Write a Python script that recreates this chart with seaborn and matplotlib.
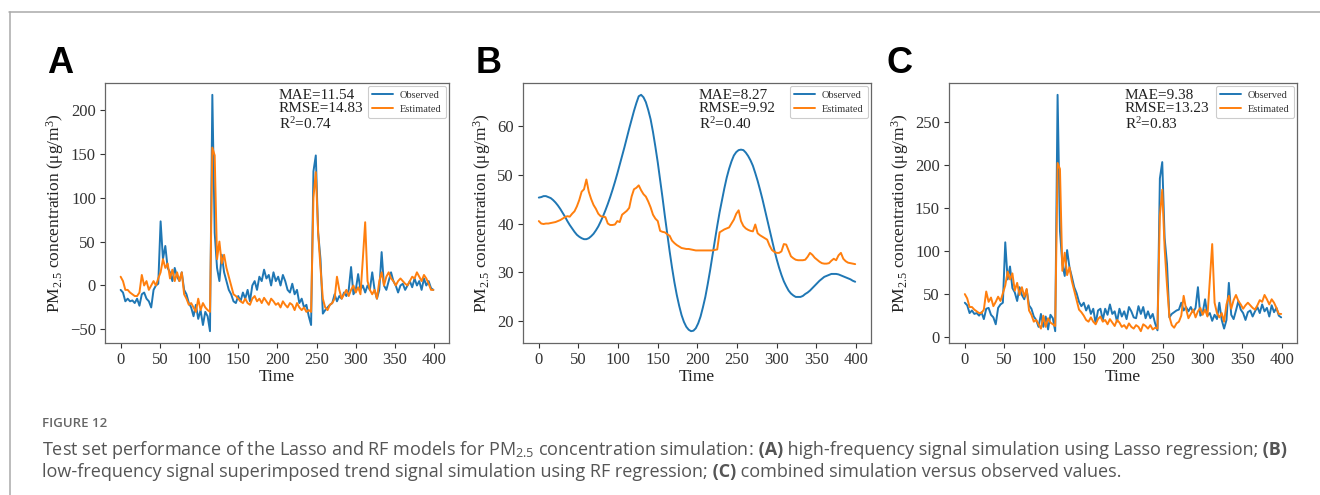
import numpy as np
import pandas as pd
import matplotlib
matplotlib.use("Agg")
import matplotlib.pyplot as plt
import seaborn as sns
from matplotlib.lines import Line2D

STEP = 3
TIME = list(range(0, 400, STEP))

A_OBSERVED = [
    -5, -8, -18, -15, -18, -17, -20, -15, -23, -10,
    -8, -15, -18, -25, -5, 0, 2, 73, 30, 45,
    20, 15, 5, 20, 10, 5, 15, -5, -10, -20,
    -25, -35, -22, -38, -28, -45, -30, -35, -52, 217,
    60, 20, 5, 35, 15, 5, -5, -10, -18, -20,
    -12, -18, -8, -15, -5, -18, 0, 5, -5, 10,
    5, 18, 8, 12, 0, 15, 5, 10, 0, 12,
    5, -5, -8, 2, -10, -5, -20, -15, -25, -22,
    -35, -45, 130, 148, 60, 30, -32, -28, -25, -22,
    -20, -10, -18, -12, -15, -8, -12, -5, 21, -10,
    -5, 13, -5, 0, -8, 0, -5, 15, -5, -15,
    -5, 38, 0, -5, 5, 15, 5, 0, -8, 0,
    2, -5, 0, 5, -2, 8, 0, 5, -5, 8,
    0, 5, -3, -5,
]
A_ESTIMATED = [
    10, 5, -5, -5, -8, -10, -12, -12, -8, 12,
    0, 5, -5, 0, 5, 0, 8, 15, 30, 20,
    25, 8, 18, 5, 15, 5, 15, -10, -15, -22,
    -20, -25, -30, -15, -28, -20, -25, -28, -30, 157,
    148, 30, 50, 25, 35, 20, 10, 0, -10, -12,
    -15, -18, -20, -15, -20, -22, -15, -12, -18, -15,
    -20, -14, -18, -22, -15, -18, -22, -20, -25, -18,
    -22, -25, -20, -22, -28, -20, -25, -28, -25, -30,
    -28, -30, 100, 129, 60, 20, -15, -25, -28, -22,
    -20, -15, 10, -5, -15, -10, -5, -12, -5, 0,
    -8, -2, -10, 30, 72, 5, -5, -10, -5, -15,
    5, 15, 0, 10, 15, 8, 5, 0, 5, 8,
    5, 2, 0, 5, 10, 8, 15, 10, 5, 12,
    8, 2, -5, -5,
]
B_OBSERVED = [
    45.3, 45.4, 45.6, 45.6, 45.4, 45.2, 44.8, 44.3, 43.7, 43.0,
    42.2, 41.4, 40.5, 39.7, 39.0, 38.3, 37.7, 37.3, 37.0, 36.8,
    36.8, 37.0, 37.4, 37.9, 38.6, 39.4, 40.4, 41.5, 42.7, 44.0,
    45.4, 46.9, 48.5, 50.2, 52.0, 53.8, 55.6, 57.5, 59.4, 61.2,
    63.0, 64.6, 66.0, 66.3, 65.8, 64.8, 63.2, 61.3, 58.7, 55.7,
    52.5, 48.9, 45.3, 41.5, 37.9, 34.3, 31.0, 28.0, 25.4, 23.2,
    21.3, 19.9, 18.9, 18.3, 18.0, 18.1, 18.6, 19.6, 21.0, 22.9,
    25.0, 27.6, 30.4, 33.5, 36.5, 39.5, 42.3, 44.8, 47.2, 49.4,
    51.2, 52.7, 53.9, 54.6, 55.0, 55.1, 55.0, 54.5, 53.8, 52.9,
    51.8, 50.3, 48.7, 46.9, 45.0, 42.9, 40.8, 38.7, 36.6, 34.6,
    32.7, 31.0, 29.5, 28.2, 27.2, 26.3, 25.7, 25.3, 25.0, 25.0,
    25.0, 25.2, 25.6, 25.9, 26.3, 26.8, 27.3, 27.8, 28.3, 28.7,
    29.1, 29.3, 29.5, 29.7, 29.7, 29.7, 29.6, 29.4, 29.2, 29.0,
    28.8, 28.6, 28.3, 28.1,
]
B_ESTIMATED = [
    40.5, 40.0, 39.9, 40.0, 40.0, 40.1, 40.2, 40.3, 40.5, 40.7,
    41.0, 41.3, 41.5, 41.4, 42.0, 42.5, 43.5, 44.8, 46.5, 47.0,
    49.0, 46.5, 45.0, 43.8, 43.0, 42.0, 41.5, 41.4, 41.3, 40.0,
    39.7, 39.7, 39.8, 40.5, 40.3, 41.8, 42.2, 42.6, 43.2, 45.5,
    47.0, 47.3, 47.8, 46.8, 46.0, 45.5, 44.5, 43.3, 41.8, 41.0,
    40.5, 38.5, 38.3, 38.2, 37.8, 37.5, 36.5, 36.0, 35.6, 35.3,
    35.0, 34.9, 34.8, 34.8, 34.7, 34.6, 34.5, 34.5, 34.5, 34.5,
    34.5, 34.5, 34.5, 34.5, 34.6, 34.7, 38.2, 38.5, 38.8, 39.0,
    39.2, 40.0, 40.8, 42.0, 42.7, 40.5, 39.5, 39.0, 38.7, 38.5,
    38.4, 39.8, 38.0, 37.6, 37.3, 37.0, 36.7, 35.5, 34.6, 34.2,
    34.0, 34.0, 34.3, 35.8, 35.7, 34.5, 33.3, 32.9, 32.6, 32.5,
    32.5, 32.5, 32.6, 33.2, 34.0, 33.6, 33.0, 32.6, 32.2, 31.9,
    31.8, 31.8, 31.9, 32.4, 32.8, 32.5, 33.5, 34.0, 32.8, 32.3,
    32.0, 31.9, 31.8, 31.7,
]
C_OBSERVED = [
    40, 37, 28, 31, 27, 28, 25, 29, 21, 33,
    34, 26, 23, 15, 34, 38, 40, 110, 67, 82,
    57, 52, 42, 58, 49, 44, 55, 37, 33, 24,
    20, 12, 27, 12, 24, 9, 26, 22, 7, 281,
    123, 85, 71, 101, 81, 70, 58, 51, 41, 36,
    40, 31, 37, 27, 33, 16, 31, 33, 20, 33,
    26, 38, 27, 30, 18, 33, 24, 30, 21, 35,
    30, 23, 22, 36, 27, 35, 22, 30, 22, 27,
    16, 8, 184, 203, 115, 85, 23, 27, 29, 31,
    32, 40, 31, 35, 30, 35, 29, 34, 58, 25,
    28, 44, 25, 28, 19, 26, 21, 40, 20, 10,
    20, 63, 26, 21, 31, 42, 32, 28, 20, 29,
    31, 24, 30, 35, 28, 38, 30, 34, 24, 37,
    29, 34, 25, 23,
]
C_ESTIMATED = [
    50, 45, 35, 35, 32, 30, 28, 28, 32, 53,
    41, 46, 36, 41, 47, 42, 51, 60, 76, 67,
    74, 54, 63, 49, 58, 47, 56, 31, 26, 18,
    20, 15, 10, 25, 12, 22, 17, 15, 13, 202,
    195, 77, 98, 72, 81, 65, 54, 43, 32, 29,
    25, 20, 18, 23, 18, 15, 21, 24, 18, 20,
    15, 21, 17, 13, 20, 17, 12, 14, 10, 16,
    12, 10, 14, 12, 7, 15, 13, 10, 14, 9,
    11, 10, 141, 171, 103, 60, 24, 14, 11, 16,
    18, 25, 48, 33, 22, 27, 32, 23, 30, 34,
    26, 32, 24, 66, 108, 40, 28, 23, 28, 18,
    38, 48, 33, 43, 49, 42, 38, 33, 37, 40,
    37, 34, 32, 37, 43, 41, 49, 44, 38, 44,
    40, 34, 27, 27,
]

PANEL_LETTERS = ["A", "B", "C"]
MAE = [11.54, 8.27, 9.38]
RMSE = [14.83, 9.92, 13.23]
R2 = [0.74, 0.40, 0.83]
YTICKS = [[-50, 0, 50, 100, 150, 200], [20, 30, 40, 50, 60], [0, 50, 100, 150, 200, 250]]
XTICKS = [0, 50, 100, 150, 200, 250, 300, 350, 400]
SERIES_NAMES = ["Observed", "Estimated"]
OBSERVED = [A_OBSERVED, B_OBSERVED, C_OBSERVED]
ESTIMATED = [A_ESTIMATED, B_ESTIMATED, C_ESTIMATED]

# ---------------- style ----------------
sns.set_theme(style="ticks")
plt.rcParams.update({
    "font.family": ["Liberation Serif", "DejaVu Serif"],
    "mathtext.fontset": "custom",
    "mathtext.rm": "Liberation Serif",
    "mathtext.it": "Liberation Serif:italic",
    "mathtext.bf": "Liberation Serif:bold",
    "mathtext.sf": "Open Sans",
})

W, H = 1320, 495
fig = plt.figure(figsize=(W / 100, H / 100), dpi=100)
fig.patch.set_facecolor("white")

COLORS = {"Observed": "#1f77b4", "Estimated": "#ff7f0e"}

# axes rectangles in pixels: left, top, right, bottom
AX_PX = [(105, 83, 449, 343), (523, 83, 871, 343), (949, 83, 1297, 343)]
LETTER_X = [47, 476, 887]

for i in range(3):
    l, t, r, b = AX_PX[i]
    ax = fig.add_axes([l / W, 1 - b / H, (r - l) / W, (b - t) / H])
    df = pd.DataFrame({"Time": TIME * 2,
                       "value": list(OBSERVED[i]) + list(ESTIMATED[i]),
                       "Series": ["Observed"] * len(TIME) + ["Estimated"] * len(TIME)})
    sns.lineplot(data=df, x="Time", y="value", hue="Series", hue_order=SERIES_NAMES,
                 palette=COLORS, estimator=None, sort=False, linewidth=1.4, ax=ax)
    ax.set_xticks(XTICKS)
    ax.set_yticks(YTICKS[i])
    ax.set_xlabel("Time", fontsize=12.5, color="#222222", labelpad=1)
    ax.set_ylabel("PM$_{2.5}$ concentration (\u03bcg/m$^{3}$)", fontsize=12.5,
                  color="#222222", labelpad=3)
    ax.tick_params(labelsize=12, colors="#333333", length=3.5, width=0.8, pad=3)
    for sp in ax.spines.values():
        sp.set_visible(True)
        sp.set_color("#666666")
        sp.set_linewidth(0.9)
    leg = ax.legend(loc="upper right", fontsize=7.5, frameon=True, fancybox=True,
                    edgecolor="#cccccc", framealpha=1, borderaxespad=0.3,
                    handlelength=2.0, handletextpad=0.7, labelcolor="#333333")
    leg.get_frame().set_linewidth(0.8)
    txt = "MAE={:.2f}\nRMSE={:.2f}\nR$^2$={:.2f}".format(MAE[i], RMSE[i], R2[i])
    ax.text(0.505, 0.978, txt, transform=ax.transAxes, va="top", ha="left",
            fontsize=11, linespacing=1.05, color="#222222")
    fig.text(LETTER_X[i] / W, 1 - 73 / H, PANEL_LETTERS[i], fontsize=26,
             fontweight="bold", family="Liberation Sans", va="baseline", ha="left",
             color="black")

# card border
fig.add_artist(Line2D([9 / W, 1], [1 - 12 / H, 1 - 12 / H], color="#aaaaaa",
                      lw=1.1, transform=fig.transFigure))
fig.add_artist(Line2D([9.5 / W, 9.5 / W], [0, 1 - 12 / H], color="#aaaaaa",
                      lw=1.1, transform=fig.transFigure))

# caption
renderer = fig.canvas.get_renderer()
CAP_FONT = "Open Sans"
CAP_COLOR = "#555555"
CAP_SIZE = 13


def draw_runs(x_px, base_px, runs):
    x = x_px
    for text, weight in runs:
        t = fig.text(x / W, 1 - base_px / H, text, fontsize=CAP_SIZE, fontweight=weight,
                     family=CAP_FONT, color=CAP_COLOR, va="baseline", ha="left")
        bb = t.get_window_extent(renderer)
        x = bb.x1


fig.text(42 / W, 1 - 427 / H, "FIGURE 12", fontsize=9.5, fontweight="semibold",
         family=CAP_FONT, color="#666666", va="baseline", ha="left")
draw_runs(42, 455, [
    ("Test set performance of the Lasso and RF models for PM$_{\\mathsf{2.5}}$ concentration simulation:", "normal"),
    (" (A)", "bold"),
    (" high-frequency signal simulation using Lasso regression;", "normal"),
    (" (B)", "bold"),
])
draw_runs(42, 477, [
    ("low-frequency signal superimposed trend signal simulation using RF regression;", "normal"),
    (" (C)", "bold"),
    (" combined simulation versus observed values.", "normal"),
])

fig.savefig("out.png", dpi=100, facecolor="white")
